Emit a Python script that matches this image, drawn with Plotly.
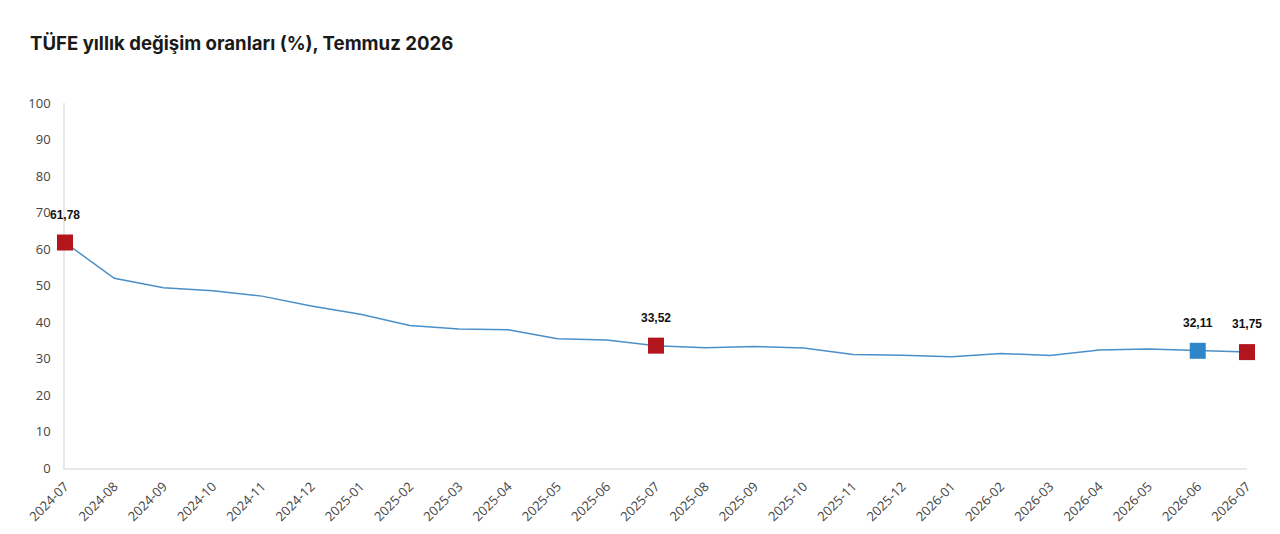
import plotly.graph_objects as go

# aylar ve TÜFE yıllık değişim oranları
months = ["2024-07", "2024-08", "2024-09", "2024-10", "2024-11", "2024-12",
          "2025-01", "2025-02", "2025-03", "2025-04", "2025-05", "2025-06",
          "2025-07", "2025-08", "2025-09", "2025-10", "2025-11", "2025-12",
          "2026-01", "2026-02", "2026-03", "2026-04", "2026-05", "2026-06",
          "2026-07"]
values = [61.78, 51.97, 49.38, 48.58, 47.09, 44.38,
          42.12, 39.05, 38.10, 37.86, 35.41, 35.05,
          33.52, 32.95, 33.29, 32.87, 31.07, 30.89,
          30.50, 31.40, 30.80, 32.30, 32.60, 32.11,
          31.75]

# işaretlenen noktalar
red_months = ["2024-07", "2025-07", "2026-07"]
blue_months = ["2026-06"]
tick_vals = [0, 10, 20, 30, 40, 50, 60, 70, 80, 90, 100]

red_values = [values[months.index(m)] for m in red_months]
blue_values = [values[months.index(m)] for m in blue_months]

fig = go.Figure()

fig.add_trace(go.Scatter(x=months, y=values, mode="lines",
                         line=dict(color="#4a8fc8", width=1.5),
                         hoverinfo="skip", cliponaxis=False))

fig.add_trace(go.Scatter(x=red_months, y=red_values, mode="markers",
                         marker=dict(symbol="square", size=16, color="#b3151c"),
                         cliponaxis=False))
fig.add_trace(go.Scatter(x=blue_months, y=blue_values, mode="markers",
                         marker=dict(symbol="square", size=16, color="#2e86c8"),
                         cliponaxis=False))

# değer etiketleri
for m, v in zip(red_months + blue_months, red_values + blue_values):
    fig.add_annotation(x=m, y=v, text="<b>" + f"{v:.2f}".replace(".", ",") + "</b>",
                       showarrow=False, yshift=28,
                       font=dict(family="Liberation Sans, Arial", size=12, color="#111111"))

fig.update_layout(
    width=1280, height=534,
    paper_bgcolor="white", plot_bgcolor="white",
    showlegend=False,
    margin=dict(l=57, r=41, t=95, b=74),
    title=dict(text="<b>TÜFE yıllık değişim oranları (%), Temmuz 2026</b>",
               x=22 / 1280, xanchor="left", y=1 - 35 / 534, yanchor="middle",
               font=dict(family="Inter, Noto Sans", size=18.6, color="#1a1a1a")),
    font=dict(family="Open Sans, Noto Sans", size=13, color="#444444"),
)

fig.update_xaxes(type="category", range=[0, len(months) - 1],
                 tickangle=-45, showgrid=False, ticks="",
                 showline=True, linecolor="#e8e8e8", linewidth=1.5,
                 layer="below traces", ticklabelstandoff=4,
                 tickfont=dict(size=13, color="#444444"))
fig.update_yaxes(range=[0, 100], tickvals=tick_vals, showgrid=False,
                 zeroline=False, showline=True, linecolor="#e8e8e8", linewidth=1.5,
                 ticks="", ticklabelstandoff=10, layer="below traces",
                 tickfont=dict(size=13, color="#444444"))

fig.write_html("out.html")
